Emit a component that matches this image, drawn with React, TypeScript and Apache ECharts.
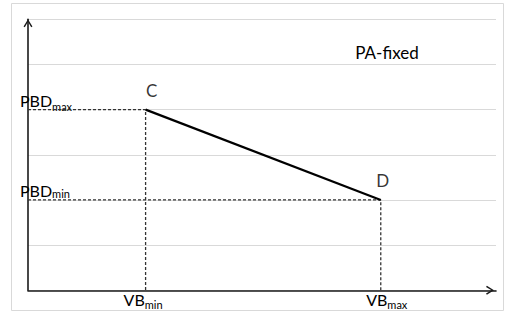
import React, { useEffect, useRef } from "react";
import * as echarts from "echarts";

const pointNames = ["C", "D"];
const pointX = [25, 75];
const pointY = [4, 2];
const xTickLabels: Record<number, string> = { 25: "{a|VB}{b2|min}", 75: "{a3|VB}{b|max}" };
const yTickLabels: Record<number, string> = { 4: "{a|PBD}{b|max}", 2: "{a2|PBD}{c|min}" };
const annotation = "PA-fixed";

const FONT = "Lato";
const TEXT = "#000";
const ARROW = "path://M5,0 L10,8 L8.6,9 L5,2.8 L1.4,9 L0,8 Z";
const labelOffsets = [
  [6, -6],
  [2, -6],
];

export default function App() {
  const ref = useRef<HTMLDivElement>(null);
  useEffect(() => {
    if (!ref.current) return;
    const chart = echarts.init(ref.current, undefined, { renderer: "svg" });
    const points = pointNames.map((n, i) => ({
      value: [pointX[i], pointY[i], n],
      label: { offset: labelOffsets[i] },
    }));
    const guides = pointNames.map((_, i) => ({
      type: "line",
      data: [
        [0, pointY[i]],
        [pointX[i], pointY[i]],
        [pointX[i], 0],
      ],
      symbol: "none",
      silent: true,
      z: 3,
      lineStyle: { color: "#333", width: 1.3, type: [3, 2] },
    }));
    const main = { fontFamily: FONT, fontSize: 16, color: TEXT };
    const sub = { fontFamily: FONT, fontSize: 11, color: TEXT };
    chart.setOption({
      animation: false,
      grid: {
        left: 28,
        right: 10,
        top: 19.3,
        bottom: 23.7,
        containLabel: false,
        outerBoundsMode: "none",
      },
      xAxis: {
        type: "value",
        min: 0,
        max: 99.5,
        interval: 25,
        splitLine: { show: false },
        axisTick: { show: false },
        axisLine: {
          show: true,
          onZero: false,
          lineStyle: { color: "#1a1a1a", width: 1.6 },
          symbol: ["none", ARROW],
          symbolSize: [9, 8],
          symbolOffset: [0, -6],
        },
        axisLabel: {
          show: true,
          margin: 1.6,
          showMinLabel: false,
          showMaxLabel: false,
          formatter: (v: number) => xTickLabels[v] || "",
          rich: {
            a: { ...main, lineHeight: 16 },
            a3: { ...main, lineHeight: 16, padding: [0, 0, 0, 12] },
            b: { ...sub, lineHeight: 8, padding: [9.1, 0, 0, 0] },
            b2: { ...sub, lineHeight: 8, padding: [9.1, 5, 0, 0] },
          },
        },
      },
      yAxis: {
        type: "value",
        min: 0,
        max: 6,
        interval: 1,
        splitLine: { show: true, lineStyle: { color: "#d9d9d9", width: 1 } },
        axisTick: { show: false },
        axisLine: {
          show: true,
          onZero: false,
          lineStyle: { color: "#1a1a1a", width: 1.6 },
          symbol: ["none", ARROW],
          symbolSize: [9, 8],
          symbolOffset: [0, -4],
        },
        axisLabel: {
          show: true,
          margin: 8,
          align: "left",
          verticalAlign: "bottom",
          formatter: (v: number) => yTickLabels[v] || "",
          rich: {
            a: { ...main, lineHeight: 16, padding: [0, 0, 1.7, 0] },
            b: { ...sub, lineHeight: 8, padding: [8.8, 0, 0, 0] },
            a2: { ...main, lineHeight: 16, padding: [0, 0, 3.6, 0] },
            c: { ...sub, lineHeight: 8, padding: [3.7, 0, 0, 0] },
          },
        },
      },
      graphic: [
        {
          type: "rect",
          shape: { x: 11.5, y: 3.5, width: 492, height: 307 },
          style: { fill: "none", stroke: "#d9d9d9", lineWidth: 1 },
          z: -1,
          silent: true,
        },
        {
          type: "text",
          x: 387,
          y: 52,
          style: {
            text: annotation,
            fontFamily: FONT,
            fontSize: 17,
            fill: TEXT,
            textAlign: "center",
            textVerticalAlign: "middle",
          },
          silent: true,
        },
      ],
      series: [
        ...guides,
        {
          type: "line",
          data: pointNames.map((_, i) => [pointX[i], pointY[i]]),
          symbol: "none",
          silent: true,
          z: 4,
          lineStyle: { color: "#000", width: 2.2 },
        },
        {
          type: "scatter",
          data: points,
          symbolSize: 0.1,
          silent: true,
          z: 5,
          itemStyle: { color: "rgba(0,0,0,0)" },
          label: {
            show: true,
            position: "top",
            distance: 5,
            formatter: (p: any) => p.value[2],
            fontFamily: FONT,
            fontSize: 17,
            color: TEXT,
          },
        },
      ],
    });
    return () => chart.dispose();
  }, []);
  return (
    <div
      ref={ref}
      style={{ position: "fixed", left: 0, top: 0, width: 506, height: 314, background: "#fff" }}
    />
  );
}
